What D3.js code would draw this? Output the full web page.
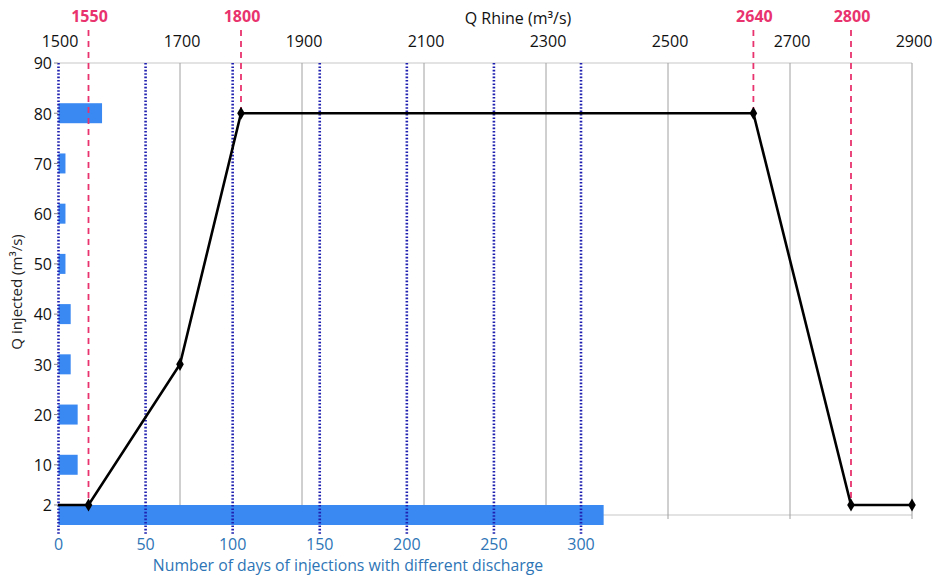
<!DOCTYPE html>
<html><head><meta charset="utf-8">
<script src="https://cdn.jsdelivr.net/npm/d3@7/dist/d3.min.js"></script>
<style>body{margin:0;background:#fff;} svg{display:block;font-family:"Open Sans",sans-serif;}</style>
</head><body>
<script>
// ---- data ----
const rhineQ      = [1500, 1550, 1700, 1800, 2640, 2800, 2900];
const injectedQ   = [2, 2, 30, 80, 80, 2, 2];
const markerFlags = [false, true, true, true, true, true, true];
const highlightQ  = [1550, 1800, 2640, 2800];
const highlightInj= [2, 80, 80, 2];
const barCategories = ["2","10","20","30","40","50","60","70","80"];
const barDays       = [313, 11, 11, 7, 7, 4, 4, 4, 25];
const rhineTicks  = [1500, 1700, 1900, 2100, 2300, 2500, 2700, 2900];
const injTicks    = [2, 10, 20, 30, 40, 50, 60, 70, 80, 90];
const dayTicks    = [0, 50, 100, 150, 200, 250, 300];

const W = 934, H = 581;
const svg = d3.select("body").append("svg").attr("width", W).attr("height", H);

const xR = d3.scaleLinear().domain([1500, 2900]).range([58, 912]);
const xD = d3.scaleLinear().domain([0, 300]).range([58.5, 581]);
const y  = d3.scaleLinear().domain([0, 90]).range([515, 63]);
const yBand = d3.scalePoint().domain([...barCategories, "90"]).range([y(0), y(90)]);

const pink = "#e8336e", gridGray = "#c8c8c8", dotBlue = "#2020b0", barBlue = "#3a88f2", axisBlue = "#2e75b6";

// horizontal grid (top & bottom)
svg.append("g").selectAll("line").data([0, 90]).join("line")
  .attr("x1", xR(1500)).attr("x2", xR(2900))
  .attr("y1", d => y(d)).attr("y2", d => y(d))
  .attr("stroke", gridGray).attr("stroke-width", 1.2);

// vertical grid for Rhine ticks
svg.append("g").selectAll("line").data(rhineTicks.slice(1)).join("line")
  .attr("x1", d => xR(d)).attr("x2", d => xR(d))
  .attr("y1", y(90)).attr("y2", y(0) + 4)
  .attr("stroke", "#a0a0a0").attr("stroke-width", 1);

// bars
svg.append("g").selectAll("rect").data(barCategories).join("rect")
  .attr("x", xD(0))
  .attr("y", d => yBand(d) - 10)
  .attr("width", (d, i) => xD(barDays[i]) - xD(0))
  .attr("height", 20)
  .attr("fill", barBlue);

// blue dotted day lines
svg.append("g").selectAll("line").data(dayTicks).join("line")
  .attr("x1", d => xD(d)).attr("x2", d => xD(d))
  .attr("y1", y(90)).attr("y2", y(0) + 20)
  .attr("stroke", dotBlue).attr("stroke-width", 2.6)
  .attr("stroke-dasharray", "1.6,1.8");

// pink dashed highlight lines
svg.append("g").selectAll("line").data(highlightQ).join("line")
  .attr("x1", d => xR(d)).attr("x2", d => xR(d))
  .attr("y1", 30).attr("y2", (d, i) => y(highlightInj[i]))
  .attr("stroke", pink).attr("stroke-width", 1.8)
  .attr("stroke-dasharray", "6,5");

svg.append("g").selectAll("text").data(highlightQ).join("text")
  .attr("x", d => xR(d) + 1).attr("y", 18)
  .attr("text-anchor", "middle").attr("dominant-baseline", "middle")
  .attr("fill", pink).attr("font-weight", "bold").attr("font-size", 16)
  .text(d => d);

// line
const pts = rhineQ.map((q, i) => [q, injectedQ[i], markerFlags[i]]);
svg.append("path").datum(pts)
  .attr("d", d3.line().x(d => xR(d[0])).y(d => y(d[1])))
  .attr("fill", "none").attr("stroke", "#000").attr("stroke-width", 2.6);
svg.append("g").selectAll("path").data(pts.filter(d => d[2])).join("path")
  .attr("d", d3.symbol(d3.symbolDiamond, 50))
  .attr("transform", d => `translate(${xR(d[0])},${y(d[1])})`)
  .attr("fill", "#000");

// top axis labels
svg.append("g").selectAll("text").data(rhineTicks).join("text")
  .attr("x", d => xR(d) + 2).attr("y", 43)
  .attr("text-anchor", "middle").attr("dominant-baseline", "middle")
  .attr("font-size", 16).attr("fill", "#111")
  .text(d => d);
svg.append("text").attr("x", 518).attr("y", 20)
  .attr("text-anchor", "middle").attr("dominant-baseline", "middle")
  .attr("font-size", 16).attr("fill", "#111")
  .text("Q Rhine (m³/s)");

// left axis
const gl = svg.append("g");
gl.selectAll("line").data(injTicks).join("line")
  .attr("x1", xR(1500) - 4).attr("x2", xR(1500))
  .attr("y1", d => y(d)).attr("y2", d => y(d))
  .attr("stroke", "#888").attr("stroke-width", 1);
gl.selectAll("text").data(injTicks).join("text")
  .attr("x", xR(1500) - 6).attr("y", d => y(d) + 2)
  .attr("text-anchor", "end").attr("dominant-baseline", "middle")
  .attr("font-size", 16).attr("fill", "#111")
  .text(d => d);
svg.append("text")
  .attr("transform", `translate(18,${(y(90) + y(0)) / 2 + 3}) rotate(-90)`)
  .attr("text-anchor", "middle").attr("dominant-baseline", "middle")
  .attr("font-size", 15).attr("fill", "#222")
  .text("Q injected (m³/s)");

// bottom axis
svg.append("g").selectAll("text").data(dayTicks).join("text")
  .attr("x", d => xD(d)).attr("y", 546)
  .attr("text-anchor", "middle").attr("dominant-baseline", "middle")
  .attr("font-size", 16).attr("fill", axisBlue)
  .text(d => d);
svg.append("text").attr("x", 348).attr("y", 567)
  .attr("text-anchor", "middle").attr("dominant-baseline", "middle")
  .attr("font-size", 15.8).attr("fill", axisBlue)
  .text("Number of days of injections with different discharge");
</script>
</body></html>
